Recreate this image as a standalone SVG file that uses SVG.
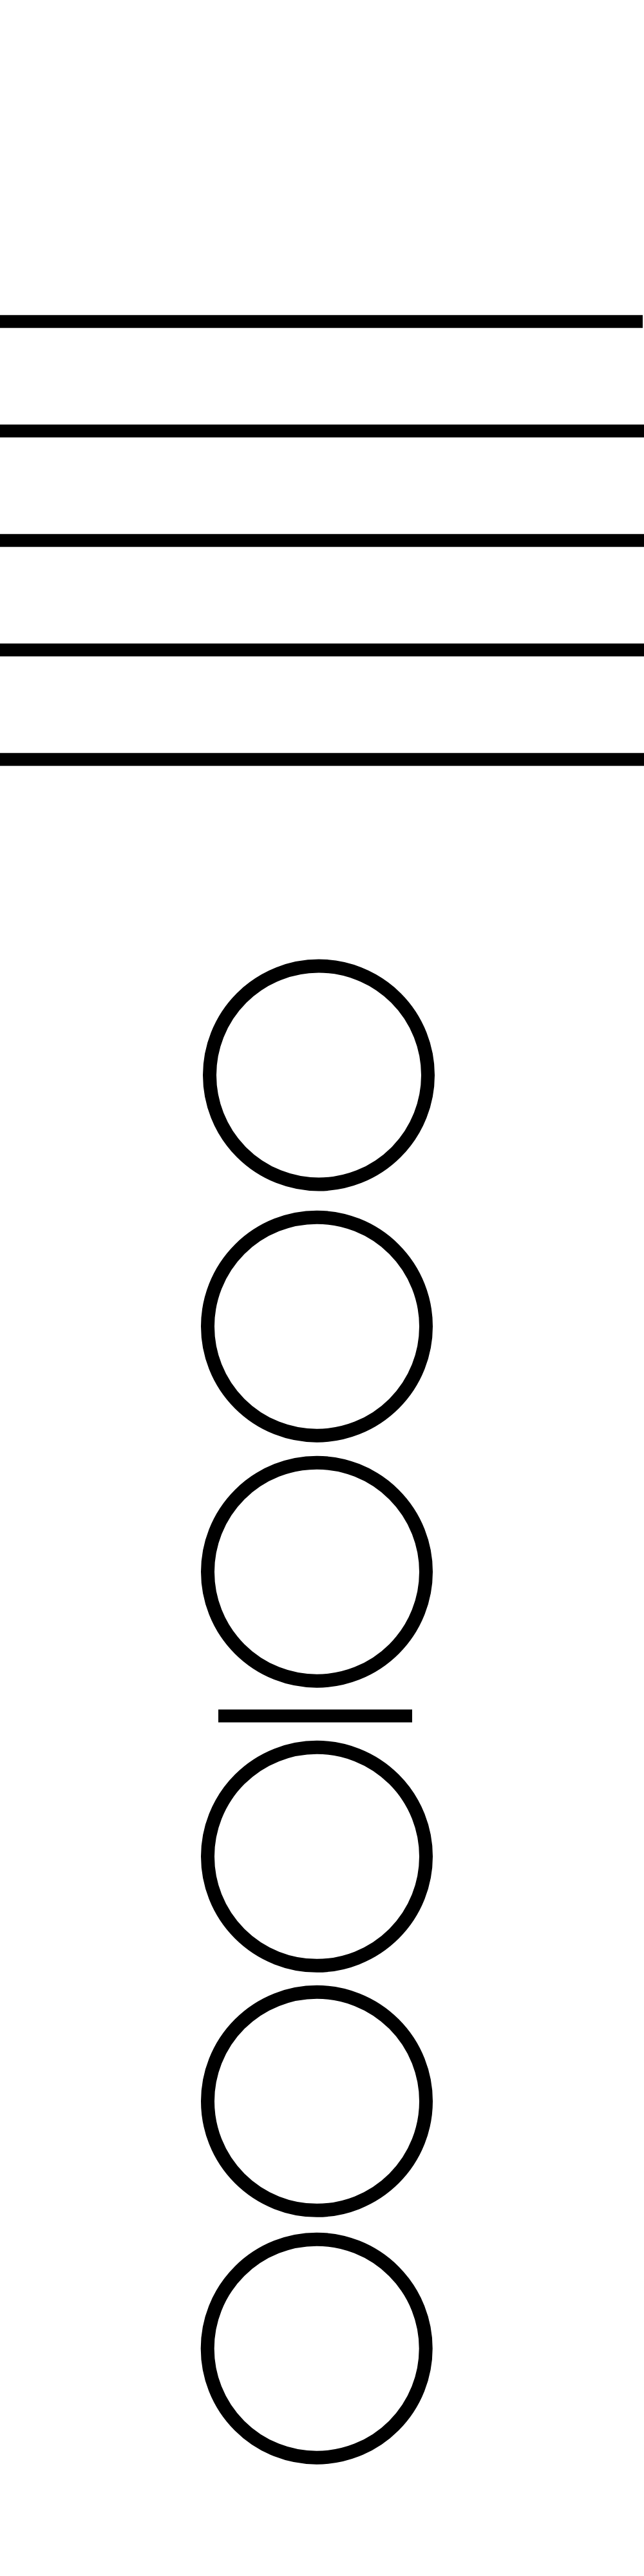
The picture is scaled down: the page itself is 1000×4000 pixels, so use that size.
<svg xmlns="http://www.w3.org/2000/svg" width="1000" height="4000" viewBox="0 0 1000 4000">
<style>
.bar{stroke:#000;stroke-width:20;fill:none}
.ring{stroke:#000;stroke-width:21;fill:#fff}
</style>
<rect width="1000" height="4000" fill="#fff"/>
<g id="lines">
<line class="bar" x1="0" y1="499.3" x2="998" y2="499.3"/>
<line class="bar" x1="0" y1="669.3" x2="1000" y2="669.3"/>
<line class="bar" x1="0" y1="839.3" x2="1000" y2="839.3"/>
<line class="bar" x1="0" y1="1009.3" x2="1000" y2="1009.3"/>
<line class="bar" x1="0" y1="1179.3" x2="1000" y2="1179.3"/>
</g>
<g id="c1"><circle class="ring" cx="495" cy="1669.5" r="169.5"/></g>
<g id="c2"><circle class="ring" cx="492" cy="2059.7" r="169.5"/></g>
<g id="c3"><circle class="ring" cx="492" cy="2440.7" r="169.5"/></g>
<g id="divider"><line class="bar" x1="339" y1="2664.5" x2="640" y2="2664.5"/></g>
<g id="c4"><circle class="ring" cx="492" cy="2882.8" r="169.5"/></g>
<g id="c5"><circle class="ring" cx="492" cy="3262.8" r="169.5"/></g>
<g id="c6"><circle class="ring" cx="491.7" cy="3646.7" r="169.5"/></g>
</svg>
